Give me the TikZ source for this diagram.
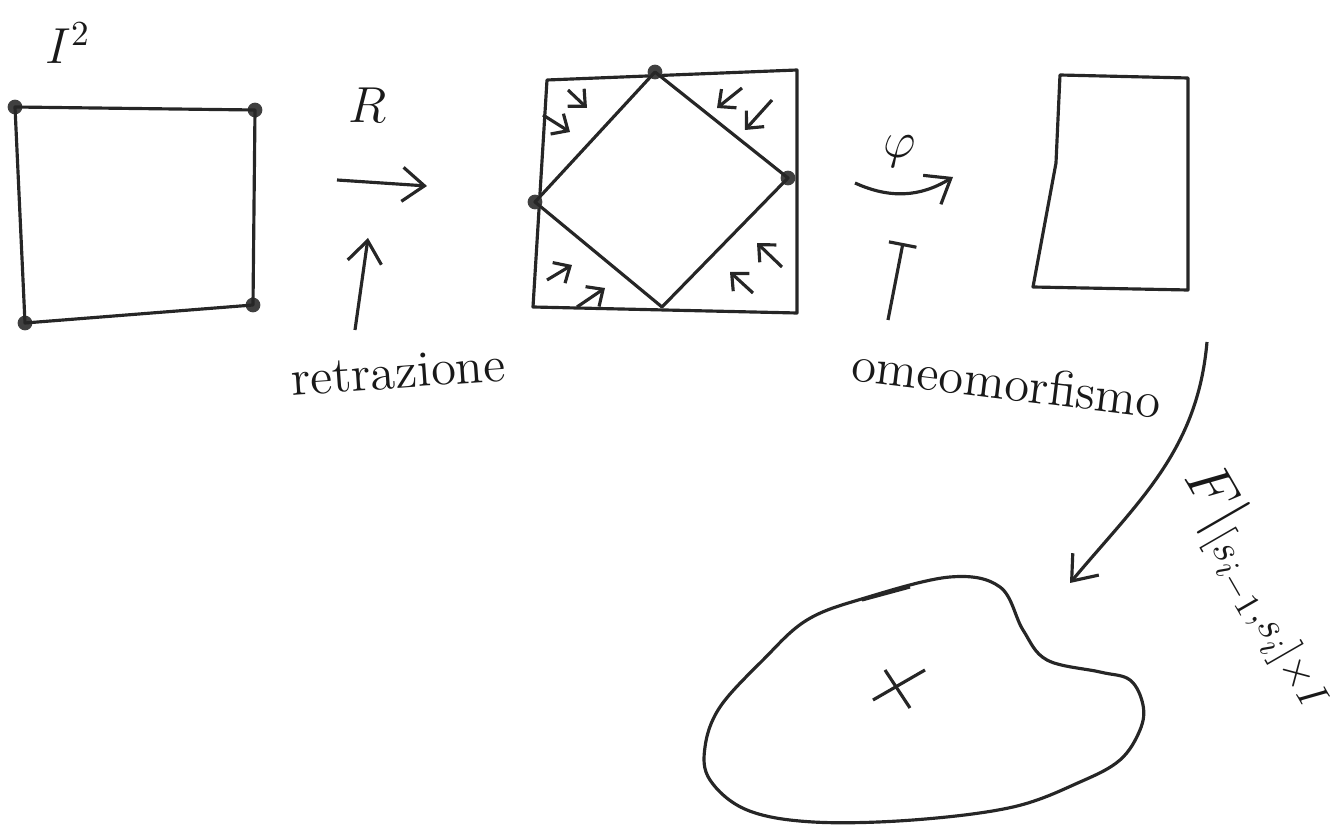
\documentclass[tikz,border=0pt]{standalone}
\usepackage{amsmath,amssymb}
\usepackage{tikz}
\usetikzlibrary{arrows.meta,positioning,calc}

\begin{document}
\begin{tikzpicture}[
    >={Straight Barb[length=2.2mm,width=3.4mm]},
    sq/.style={draw=black!85, line width=0.9pt, line join=round},
    corner/.style={circle, fill=black!75, inner sep=0pt, minimum size=4.2pt},
    lbl/.style={font=\Large, text=black!90, inner sep=1pt},
    flow/.style={->, draw=black!85, line width=0.9pt},
    retract/.style={->, draw=black!85, line width=0.9pt, >={Straight Barb[length=1.3mm,width=2.4mm]}}
]
\useasboundingbox (0,0) rectangle (13.41,8.25);

% the square I^2
\node[lbl] (isq) at (0.68,7.82) {$I^2$};
\node[corner] (atl) at (0.15,7.18) {};
\node[corner] (atr) at (2.55,7.15) {};
\node[corner] (abr) at (2.53,5.20) {};
\node[corner] (abl) at (0.25,5.02) {};
\draw[sq] (atl.center) -- (atr.center) -- (abr.center) -- (abl.center) -- cycle;

% retraction R
\node[lbl] (rlab) at (3.68,7.20) {$R$};
\coordinate (rfrom) at (3.37,6.45);
\coordinate (rto) at (4.27,6.39);
\draw[flow] (rfrom) -- (rto);
\node[lbl, rotate=4] (retr) at (3.98,4.53) {retrazione};
\coordinate (retrtip) at (3.68,5.87);
\draw[flow] (3.55,4.95) coordinate (retrfoot) -- (retrtip);

% square with the inscribed diamond
\coordinate (mtl) at (5.47,7.45);
\coordinate (mtr) at (7.97,7.55);
\coordinate (mbr) at (7.97,5.12);
\coordinate (mbl) at (5.33,5.18);
\draw[sq] (mtl) -- (mtr) -- (mbr) -- (mbl) -- cycle;
\node[corner] (dtop) at (6.55,7.53) {};
\node[corner] (dright) at (7.88,6.47) {};
\node[corner] (dleft) at (5.35,6.23) {};
\coordinate (dbottom) at (6.62,5.18);
\draw[sq] (dtop.center) -- (dright.center) -- (dbottom) -- (dleft.center) -- cycle;

% retraction directions in the corners
\draw[retract] (5.68,7.35) -- (5.87,7.17);
\draw[retract] (5.43,7.10) -- (5.70,6.93);
\draw[retract] (7.42,7.37) -- (7.17,7.17);
\draw[retract] (7.72,7.25) -- (7.45,6.95);
\draw[retract] (5.47,5.45) -- (5.72,5.60);
\draw[retract] (5.77,5.18) -- (6.05,5.37);
\draw[retract] (7.82,5.58) -- (7.57,5.82);
\draw[retract] (7.53,5.32) -- (7.30,5.53);

% homeomorphism phi
\node[lbl] (phi) at (9.00,6.73) {$\varphi$};
\coordinate (phifrom) at (8.55,6.42);
\coordinate (phito) at (9.53,6.48);
\draw[flow] (phifrom) to[bend right=28] (phito);
\node[lbl, rotate=-7] (omeo) at (10.07,4.43) {omeomorfismo};
\coordinate (omeofoot) at (8.88,5.05);
\coordinate (omeotip) at (9.03,5.82);
\draw[draw=black!85, line width=0.9pt, -{Bar[width=2.8mm]}] (omeofoot) -- (omeotip);

% target square
\coordinate (btl) at (10.60,7.50);
\coordinate (btr) at (11.88,7.47);
\coordinate (bbr) at (11.88,5.35);
\coordinate (bbl) at (10.33,5.38);
\draw[sq] (btl) -- (10.56,6.62) -- (bbl) -- (bbr) -- (btr) -- cycle;

% map to the space
\coordinate (mapfrom) at (12.07,4.83);
\coordinate (mapto) at (10.70,2.42);
\draw[flow] (mapfrom) to[out=-95, in=50] (mapto);
\node[font=\LARGE, text=black!90, rotate=-60] (fres) at (12.60,2.38) {$F|_{[s_{i-1},s_i]\times I}$};

% the space and its point
\draw[sq] plot[smooth cycle, tension=0.6] coordinates {
    (8.65,2.27) (9.50,2.48) (10.00,2.38) (10.23,1.95) (10.47,1.65)
    (11.00,1.53) (11.30,1.45) (11.43,1.20) (11.40,0.95) (11.20,0.65)
    (10.80,0.43) (10.13,0.18) (9.13,0.05) (8.13,0.03) (7.47,0.15)
    (7.10,0.45) (7.05,0.78) (7.20,1.18) (7.63,1.65) (8.07,2.05)};
\draw[sq] (8.62,2.25) -- (9.10,2.38);
\coordinate (xa) at (8.73,1.25);
\coordinate (xb) at (9.25,1.55);
\coordinate (xc) at (8.85,1.55);
\coordinate (xd) at (9.10,1.17);
\draw[sq] (xa) -- (xb);
\draw[sq] (xc) -- (xd);
\end{tikzpicture}
\end{document}
